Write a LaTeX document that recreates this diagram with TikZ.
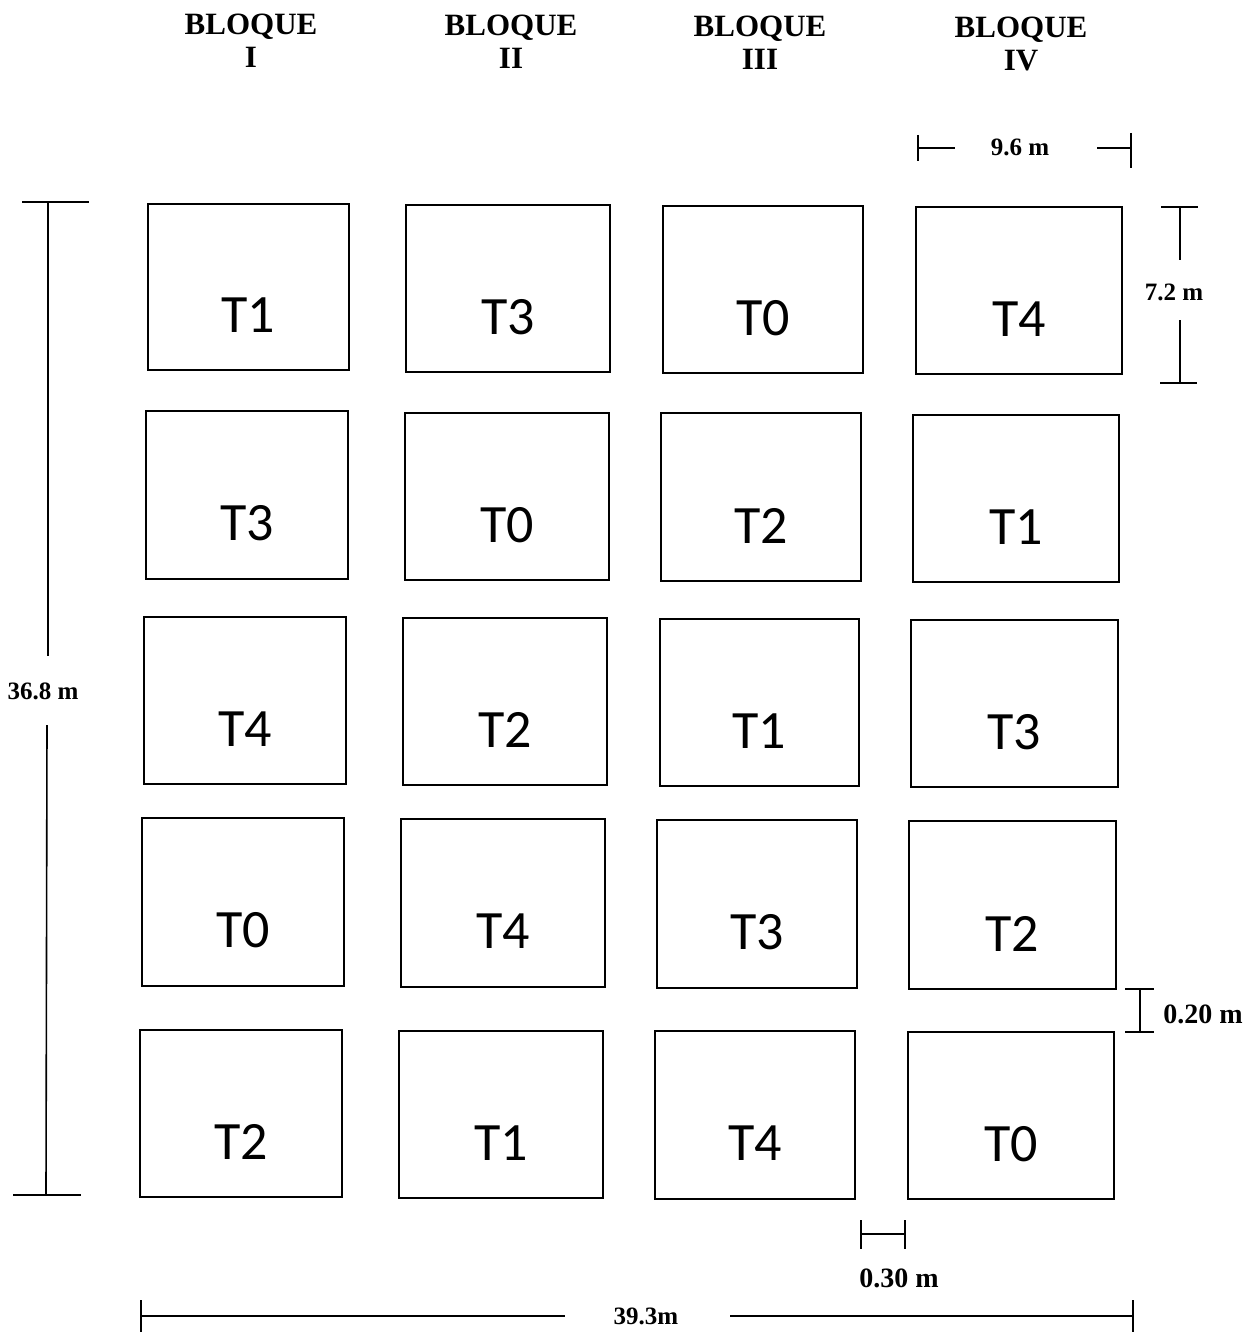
\documentclass[tikz,border=0pt]{standalone}
\usepackage{fontspec}
\setmainfont{Liberation Serif}
\newfontfamily\tfont{Carlito}
\begin{document}
\begin{tikzpicture}[x=1pt,y=-1pt,
  plot/.style={draw=black, line width=1.8pt, inner sep=0pt},
  tlab/.style={font=\tfont\fontsize{54}{54}\selectfont, inner sep=0pt},
  head/.style={font=\bfseries\fontsize{31}{31}\selectfont, inner sep=0pt, anchor=base},
  dimlab/.style={font=\bfseries\fontsize{25}{25}\selectfont, inner sep=0pt},
  dimlabB/.style={font=\bfseries\fontsize{28}{28}\selectfont, inner sep=0pt},
  dim/.style={draw=black, line width=1.6pt}]
\useasboundingbox (0,0) rectangle (1248,1332);
\fill[white] (0,0) rectangle (1248,1332);

% headers
\node[head] (h1a) at (251,35) {BLOQUE};
\node[head] (h1b) at (251,68) {I};
\node[head] (h2a) at (511,36) {BLOQUE};
\node[head] (h2b) at (511,69) {II};
\node[head] (h3a) at (760,37) {BLOQUE};
\node[head] (h3b) at (760,70) {III};
\node[head] (h4a) at (1021,38) {BLOQUE};
\node[head] (h4b) at (1021,71) {IV};

% plots: \plotbox{name}{cx}{cy}{w}{h}{label}
\newcommand{\plotbox}[6]{%
  \node[plot, minimum width=#4pt, minimum height=#5pt] (#1) at (#2,#3) {};
  \node[tlab] (#1t) at ([yshift=-28.5pt]#1.center) {#6};
}
\plotbox{p11}{248.5}{287}{201}{166}{T1}
\plotbox{p12}{508}{288.5}{204}{167}{T3}
\plotbox{p13}{763}{289.5}{200}{167}{T0}
\plotbox{p14}{1019}{290.5}{206}{167}{T4}

\plotbox{p21}{247}{495}{202}{168}{T3}
\plotbox{p22}{507}{496.5}{204}{167}{T0}
\plotbox{p23}{761}{497}{200}{168}{T2}
\plotbox{p24}{1016}{498.5}{206}{167}{T1}

\plotbox{p31}{245}{700.5}{202}{167}{T4}
\plotbox{p32}{505}{701.5}{204}{167}{T2}
\plotbox{p33}{759.5}{702.5}{199}{167}{T1}
\plotbox{p34}{1014.5}{703.5}{207}{167}{T3}

\plotbox{p41}{243}{902}{202}{168}{T0}
\plotbox{p42}{503}{903}{204}{168}{T4}
\plotbox{p43}{757}{904}{200}{168}{T3}
\plotbox{p44}{1012.5}{905}{207}{168}{T2}

\plotbox{p51}{241}{1113.5}{202}{167}{T2}
\plotbox{p52}{501}{1114.5}{204}{167}{T1}
\plotbox{p53}{755}{1115}{200}{168}{T4}
\plotbox{p54}{1011}{1115.5}{206}{167}{T0}

% 9.6 m
\node[dimlab] (d96) at (1020,147) {9.6 m};
\coordinate (a1) at (918,148);
\coordinate (a2) at (1131,148);
\draw[dim] (918,135) -- (918,161);
\draw[dim] (a1) -- (955,148);
\draw[dim] (1097,148) -- (a2);
\draw[dim] (1131,133) -- (1131,168);

% 7.2 m
\node[dimlab] (d72) at (1174,292) {7.2 m};
\draw[dim] (1161,207) -- (1198,207);
\draw[dim] (1180,207) -- (1180,260);
\draw[dim] (1180,320) -- (1180,383);
\draw[dim] (1160,383) -- (1197,383);

% 0.20 m
\node[dimlabB] (d020) at (1203,1014) {0.20 m};
\draw[dim] (1125,989) -- (1154,989);
\draw[dim] (1140,989) -- (1140,1032);
\draw[dim] (1125,1032) -- (1154,1032);

% 0.30 m
\node[dimlabB] (d030) at (899,1278) {0.30 m};
\draw[dim] (861,1220) -- (861,1249);
\draw[dim] (905,1220) -- (905,1249);
\draw[dim] (861,1234) -- (905,1234);

% 36.8 m
\node[dimlab] (d368) at (43,691) {36.8 m};
\draw[dim] (22,202) -- (89,202);
\draw[dim] (48,202) -- (48,656);
\draw[dim] (47,725) -- (46,1195);
\draw[dim] (13,1195) -- (81,1195);

% 39.3m
\node[dimlab] (d393) at (646,1316) {39.3m};
\draw[dim] (141,1300) -- (141,1332);
\draw[dim] (141,1316) -- (565,1316);
\draw[dim] (730,1316) -- (1133,1316);
\draw[dim] (1133,1300) -- (1133,1332);
\end{tikzpicture}
\end{document}
